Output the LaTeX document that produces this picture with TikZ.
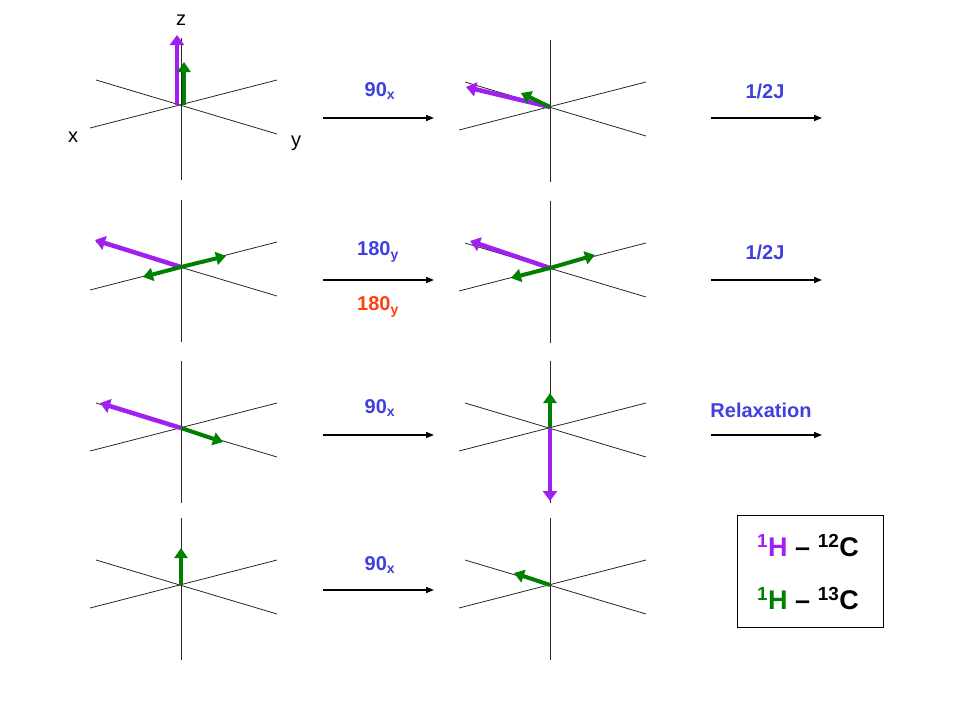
\documentclass[tikz,border=0pt]{standalone}
\usepackage{fontspec}
\setmainfont{Liberation Sans}
\usetikzlibrary{arrows.meta}
\definecolor{pur}{HTML}{A020F0}
\definecolor{grn}{HTML}{008000}
\definecolor{blu}{HTML}{4040E0}
\definecolor{red2}{HTML}{FF4010}
\begin{document}
\begin{tikzpicture}[x=1pt,y=-1pt,
 ax/.style={line width=0.8pt,black!85},
 pv/.style={line width=4.5pt,pur,-{Triangle[length=10pt,width=14pt]}},
 gv/.style={line width=4pt,grn,-{Triangle[length=10pt,width=13pt]}},
 ha/.style={line width=1.5pt,-{Triangle[length=8pt,width=6pt]}},
 lab/.style={font=\fontsize{20}{24}\selectfont\bfseries,text=blu},
 axl/.style={font=\fontsize{20}{24}\selectfont}]
\useasboundingbox (0,0) rectangle (960,720);
\tikzset{frame/.pic={
 \draw[ax] (-85,-25) -- (96,29);
 \draw[ax] (-91,23) -- (96,-25);
 \draw[ax] (0,-67) -- (0,75);
}}
% row 1
\coordinate (c11) at (181,105); \pic at (c11) {frame};
\coordinate (c12) at (550,107); \pic at (c12) {frame};
\draw[pv] ([xshift=-4]c11) -- ++(0,-70);
\draw[gv] ([xshift=3]c11) -- ++(0,-43);
\node[axl] (lz) at (181,20) {z};
\node[axl] (lx) at (73,137) {x};
\node[axl] (ly) at (296,143) {y};
\draw[pv] (c12) -- (466,87);
\draw[gv] (c12) -- (521,93);
% row 2
\coordinate (c21) at (181,267); \pic at (c21) {frame};
\coordinate (c22) at (550,268); \pic at (c22) {frame};
\draw[pv] (c21) -- (95,240);
\draw[gv] (c21) -- (143,277);
\draw[gv] (c21) -- (226,256);
\draw[pv] (c22) -- (470,241);
\draw[gv] (c22) -- (511,278);
\draw[gv] (c22) -- (595,255);
% row 3
\coordinate (c31) at (181,428); \pic at (c31) {frame};
\coordinate (c32) at (550,428); \pic at (c32) {frame};
\draw[pv] (c31) -- (100,403);
\draw[gv] (c31) -- (223,442);
\draw[gv] (c32) -- (550,393);
\draw[pv] (c32) -- (550,501);
% row 4
\coordinate (c41) at (181,585); \pic at (c41) {frame};
\coordinate (c42) at (550,585); \pic at (c42) {frame};
\draw[gv] (c41) -- (181,548);
\draw[gv] (c42) -- (514,573);
% arrows
\foreach \y/\n in {118/a,280/b,435/c,590/d}{
 \coordinate (l\n s) at (323,\y); \coordinate (l\n e) at (434,\y);
 \draw[ha] (l\n s) -- (l\n e);}
\foreach \y/\n in {118/a,280/b,435/c}{
 \coordinate (r\n s) at (711,\y); \coordinate (r\n e) at (822,\y);
 \draw[ha] (r\n s) -- (r\n e);}
\node[lab] (t1) at (380,91) {90$_{\mathbf{x}}$};
\node[lab] (t2) at (765,91) {1/2J};
\node[lab] (t3) at (378,252) {180$_{\mathbf{y}}$};
\node[lab,text=red2] (t4) at (378,307) {180$_{\mathbf{y}}$};
\node[lab] (t5) at (765,252) {1/2J};
\node[lab] (t6) at (380,408) {90$_{\mathbf{x}}$};
\node[lab] (t7) at (761,410) {Relaxation};
\node[lab] (t8) at (380,565) {90$_{\mathbf{x}}$};
% legend
\draw[line width=0.8pt] (737,515) rectangle (883,627);
\node[font=\fontsize{27}{30}\selectfont\bfseries] (g1) at (808,546) {\textcolor{pur}{\textsuperscript{1}H} – \textsuperscript{12}C};
\node[font=\fontsize{27}{30}\selectfont\bfseries] (g2) at (808,599) {\textcolor{grn}{\textsuperscript{1}H} – \textsuperscript{13}C};
\end{tikzpicture}
\end{document}
